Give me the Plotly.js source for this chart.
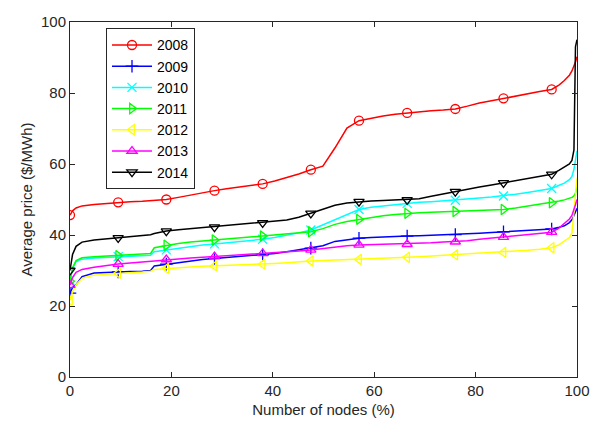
<!DOCTYPE html>
<html>
<head>
<meta charset="utf-8">
<script src="https://cdn.plot.ly/plotly-3.0.1.min.js"></script>
<style>
html, body { margin: 0; padding: 0; background: #fff; }
#chart { width: 590px; height: 427px; }
</style>
</head>
<body>
<div id="chart"></div>
<script>
// Share of nodes (%) - common x grid
var nodesPct = [0, 0.5, 1.2, 2.375, 4.75, 7.125, 9.5, 11.875, 14.25, 15.9, 16.625, 19, 21.375, 23.75, 26.125,
  28.5, 30.875, 33.25, 35.625, 38, 40.375, 42.75, 45.125, 47.5, 49.875, 52.25, 54.625, 57, 59.375, 61.75,
  64.125, 66.5, 68.875, 71.25, 73.625, 76, 78.375, 80.75, 83.125, 85.5, 87.875, 90.25, 92.625, 95,
  96.5, 97.5, 98.5, 99, 99.4, 99.7, 100];

var years = ['2008', '2009', '2010', '2011', '2012', '2013', '2014'];

var price2008 = [45.6, 46.8, 47.6, 48.2, 48.6, 48.9, 49.2, 49.4, 49.5, 49.6, 49.7, 50.0, 50.6, 51.3, 51.9,
  52.5, 53.0, 53.5, 53.9, 54.4, 55.2, 56.1, 57.2, 58.4, 59.4, 64.5, 70.1, 72.2, 72.9, 73.5,
  74.0, 74.4, 74.7, 75.0, 75.2, 75.5, 76.3, 77.2, 77.8, 78.5, 79.2, 79.8, 80.4, 81.0,
  82.3, 83.5, 85.0, 86.2, 87.4, 88.7, 90.2];
var price2009 = [23.6, 25.2, 26.0, 28.3, 29.3, 29.5, 29.6, 29.7, 29.8, 30.0, 31.3, 31.8, 32.3, 32.8, 33.1,
  33.4, 33.7, 34.0, 34.2, 34.4, 34.8, 35.3, 35.8, 36.3, 37.0, 38.2, 38.7, 39.1, 39.3, 39.5,
  39.6, 39.7, 39.8, 39.9, 40.0, 40.1, 40.3, 40.5, 40.7, 40.9, 41.1, 41.3, 41.5, 41.7,
  42.2, 42.6, 43.5, 44.3, 45.5, 46.5, 47.5];
var price2010 = [27.3, 30.5, 32.5, 33.2, 33.5, 33.7, 33.9, 34.0, 34.1, 34.3, 35.3, 35.8, 36.3, 36.8, 37.2,
  37.5, 37.8, 38.1, 38.4, 38.8, 39.3, 39.9, 40.6, 41.4, 42.9, 44.3, 45.8, 47.2, 47.8, 48.2,
  48.6, 48.9, 49.2, 49.4, 49.6, 49.8, 50.1, 50.4, 50.7, 51.0, 51.5, 52.0, 52.5, 53.1,
  54.0, 54.6, 55.6, 56.5, 58.5, 61.0, 63.7];
var price2011 = [27.0, 30.8, 32.8, 33.6, 33.9, 34.1, 34.2, 34.3, 34.5, 34.8, 36.4, 37.1, 37.6, 38.0, 38.3,
  38.6, 38.9, 39.2, 39.4, 39.7, 40.0, 40.3, 40.6, 40.9, 41.8, 43.0, 43.8, 44.4, 44.9, 45.4,
  45.8, 46.1, 46.3, 46.4, 46.5, 46.6, 46.7, 46.9, 47.0, 47.2, 47.6, 48.1, 48.6, 49.1,
  49.6, 49.9, 50.3, 50.6, 51.0, 51.8, 53.5];
var price2012 = [21.6, 24.0, 26.0, 27.8, 28.7, 29.0, 29.2, 29.4, 29.6, 29.8, 30.3, 30.6, 30.8, 31.0, 31.2,
  31.3, 31.4, 31.6, 31.7, 31.8, 32.0, 32.2, 32.5, 32.7, 32.8, 32.9, 33.0, 33.1, 33.2, 33.4,
  33.5, 33.7, 33.9, 34.1, 34.3, 34.4, 34.6, 34.8, 35.0, 35.1, 35.4, 35.7, 36.0, 36.4,
  37.3, 38.2, 39.3, 40.5, 46.0, 52.0, 56.0];
var price2013 = [25.9, 28.0, 29.5, 30.3, 30.9, 31.4, 31.8, 32.1, 32.4, 32.6, 32.7, 33.1, 33.3, 33.5, 33.7,
  33.9, 34.1, 34.4, 34.6, 34.8, 35.0, 35.3, 35.5, 35.8, 36.2, 36.7, 37.0, 37.2, 37.3, 37.3,
  37.4, 37.4, 37.6, 37.8, 38.0, 38.1, 38.4, 38.8, 39.1, 39.4, 39.8, 40.1, 40.4, 40.8,
  42.0, 43.2, 44.5, 45.5, 47.0, 48.5, 50.0];
var price2014 = [30.0, 34.5, 36.8, 38.0, 38.6, 38.9, 39.2, 39.4, 39.7, 40.1, 40.4, 41.1, 41.5, 41.8, 42.0,
  42.2, 42.5, 42.8, 43.1, 43.4, 43.8, 44.2, 45.0, 46.1, 47.4, 48.4, 49.0, 49.4, 49.6, 49.7,
  49.8, 49.9, 50.2, 50.9, 51.6, 52.2, 52.9, 53.5, 54.1, 54.7, 55.2, 55.7, 56.3, 57.1,
  58.3, 59.1, 60.0, 61.0, 64.0, 93.0, 95.0];

var seriesValues = [price2008, price2009, price2010, price2011, price2012, price2013, price2014];
var seriesColors = ['#FF0000', '#0000FF', '#00FFFF', '#00FF00', '#FFFF00', '#FF00FF', '#000000'];
var seriesSymbols = ['circle-open', 'cross-thin-open', 'x-thin-open', 'triangle-right-open',
  'triangle-left-open', 'triangle-up-open', 'triangle-down-open'];
var markerStep = 9.5; // markers shown every 9.5 % of nodes, as in the source figure

var traces = [];
var legendTraces = [];
for (var s = 0; s < years.length; s++) {
  var ys = seriesValues[s];
  var mx = [], my = [];
  for (var i = 0; i < nodesPct.length; i++) {
    var r = nodesPct[i] / markerStep;
    if (Math.abs(r - Math.round(r)) < 1e-9 && nodesPct[i] <= 95) { mx.push(nodesPct[i]); my.push(ys[i]); }
  }
  var mk = { symbol: seriesSymbols[s], size: 9, color: seriesColors[s], line: { width: 1.3, color: seriesColors[s] } };
  traces.push({ x: nodesPct, y: ys, type: 'scatter', mode: 'lines', showlegend: false, legendgroup: years[s],
    line: { color: seriesColors[s], width: 1.5 }, hoverinfo: 'skip' });
  traces.push({ x: mx, y: my, type: 'scatter', mode: 'markers', showlegend: false, legendgroup: years[s],
    marker: mk, hoverinfo: 'skip' });
  legendTraces.push({ x: [null], y: [null], type: 'scatter', mode: 'lines+markers', name: years[s],
    legendgroup: years[s], line: { color: seriesColors[s], width: 1.5 }, marker: mk });
}

var axisCol = '#262626';
var layout = {
  width: 590, height: 427,
  margin: { l: 70, r: 13, t: 22, b: 50 },
  paper_bgcolor: '#ffffff', plot_bgcolor: '#ffffff',
  font: { family: 'Liberation Sans, Arial, sans-serif', size: 15, color: axisCol },
  showlegend: true,
  legend: {
    x: 0.071, y: 0.982, xanchor: 'left', yanchor: 'top',
    bgcolor: '#ffffff', bordercolor: axisCol, borderwidth: 1,
    font: { size: 14, color: '#000000' }, traceorder: 'normal', itemwidth: 40
  },
  xaxis: {
    range: [0, 100], dtick: 20, tick0: 0, ticks: 'inside', ticklen: 5, tickcolor: axisCol,
    showline: true, linecolor: axisCol, linewidth: 1, mirror: 'ticks', showgrid: false, zeroline: false,
    tickfont: { size: 15 }, title: { text: 'Number of nodes (%)', font: { size: 15 }, standoff: 6 }
  },
  yaxis: {
    range: [0, 100], dtick: 20, tick0: 0, ticks: 'inside', ticklen: 5, tickcolor: axisCol,
    showline: true, linecolor: axisCol, linewidth: 1, mirror: 'ticks', showgrid: false, zeroline: false,
    tickfont: { size: 15 }, title: { text: 'Average price ($/MWh)', font: { size: 15 }, standoff: 4 }
  }
};

Plotly.newPlot('chart', traces.concat(legendTraces), layout, { displayModeBar: false, staticPlot: true });
</script>
</body>
</html>
